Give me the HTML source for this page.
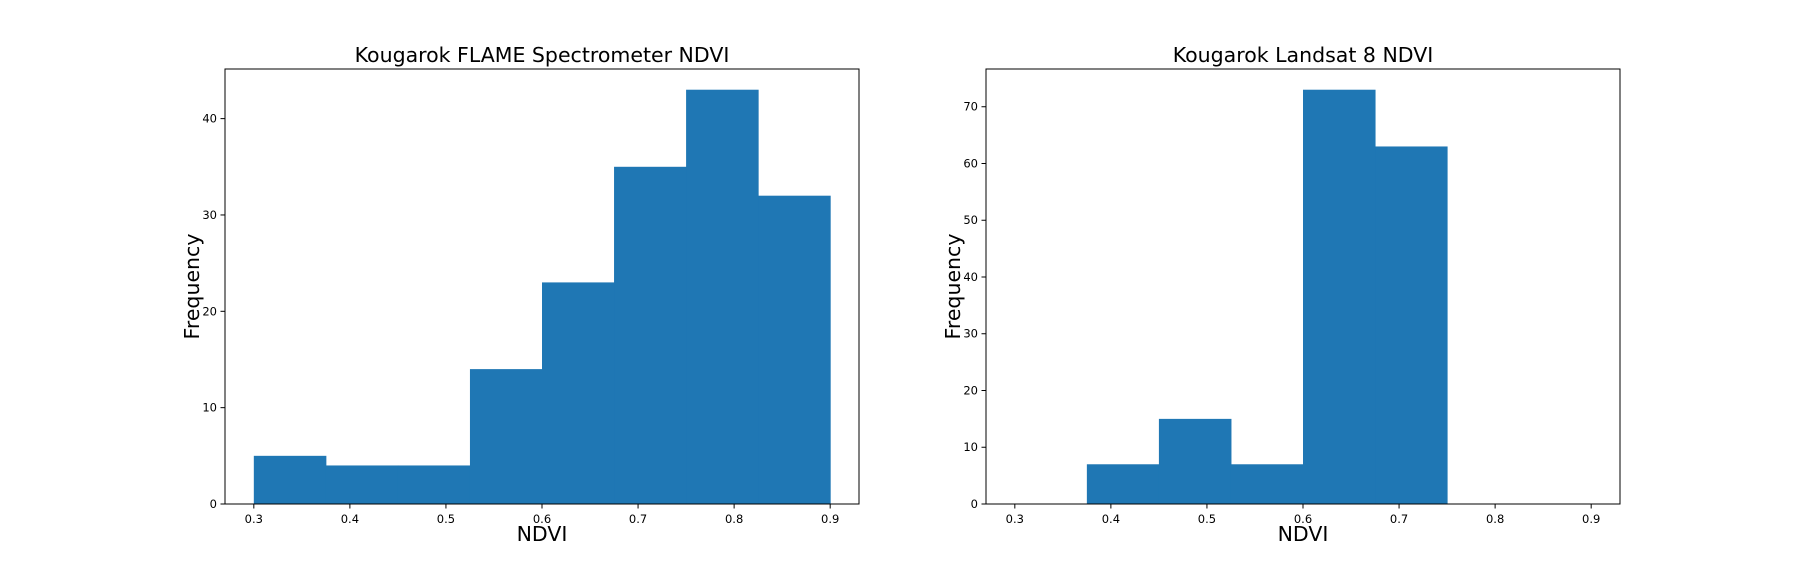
<!DOCTYPE html>
<html><head><meta charset="utf-8"><style>
body{margin:0;background:#fff;}
svg{display:block;font-family:"DejaVu Sans","Liberation Sans",sans-serif;}
</style></head><body>
<svg id="chart" width="1800" height="576" xmlns="http://www.w3.org/2000/svg"></svg>
<script>
const binEdges = [0.3,0.375,0.45,0.525,0.6,0.675,0.75,0.825,0.9];
const flameCounts = [5,4,4,14,23,35,43,32];
const landsatCounts = [0,7,15,7,73,63,0,0];
const xTicks = [0.3,0.4,0.5,0.6,0.7,0.8,0.9];
const flameYTicks = [0,10,20,30,40];
const landsatYTicks = [0,10,20,30,40,50,60,70];
const titles = ["Kougarok FLAME Spectrometer NDVI","Kougarok Landsat 8 NDVI"];

const NS="http://www.w3.org/2000/svg";
const svg=document.getElementById('chart');
function mk(tag,attrs,parent){const e=document.createElementNS(NS,tag);for(const k in attrs)e.setAttribute(k,attrs[k]);(parent||svg).appendChild(e);return e;}

function panel(x0,x1,y0,y1,counts,yTicks,title,key){
  const g=mk('g',{});
  
  
  const xmin=0.27,xmax=0.93;
  const ymax=Math.max(...counts)*1.05;
  const sx=v=>x0+(v-xmin)/(xmax-xmin)*(x1-x0);
  const sy=v=>y1-v/ymax*(y1-y0);
  counts.forEach((c,i)=>{
    if(c<=0)return;
    const r=mk('rect',{x:sx(binEdges[i]),y:sy(c),width:sx(binEdges[i+1])-sx(binEdges[i])+0.5,height:y1-sy(c),fill:'#1f77b4'},g);
    
    
  });
  const frame=mk('rect',{x:x0,y:y0,width:x1-x0,height:y1-y0,fill:'none',stroke:'#000','stroke-width':1},g);
  
  
  xTicks.forEach(t=>{
    const x=sx(t);
    mk('line',{x1:x,x2:x,y1:y1,y2:y1+4.5,stroke:'#000'},g);
    const tx=mk('text',{x:x,y:y1+19,'font-size':11.5,'text-anchor':'middle'},g);
    tx.textContent=t.toFixed(1);
    
    
  });
  yTicks.forEach(t=>{
    const y=sy(t);
    mk('line',{x1:x0-4.5,x2:x0,y1:y,y2:y,stroke:'#000'},g);
    const tx=mk('text',{x:x0-8,y:y+4,'font-size':11.5,'text-anchor':'end'},g);
    tx.textContent=t;
    
    
  });
  const tt=mk('text',{x:(x0+x1)/2,y:y0-7,'font-size':20.5,'text-anchor':'middle'},g);
  tt.textContent=title;
  
  
  const xl=mk('text',{x:(x0+x1)/2,y:y1+37,'font-size':20.5,'text-anchor':'middle'},g);
  xl.textContent='NDVI';
  
  
  const yl=mk('text',{x:0,y:0,'font-size':20.5,'text-anchor':'middle',transform:`translate(${x0-26},${(y0+y1)/2}) rotate(-90)`},g);
  yl.textContent='Frequency';
  
  
}
panel(225,859,69,504,flameCounts,flameYTicks,titles[0],'flame');
panel(986,1620,69,504,landsatCounts,landsatYTicks,titles[1],'landsat');
</script>
</body></html>
